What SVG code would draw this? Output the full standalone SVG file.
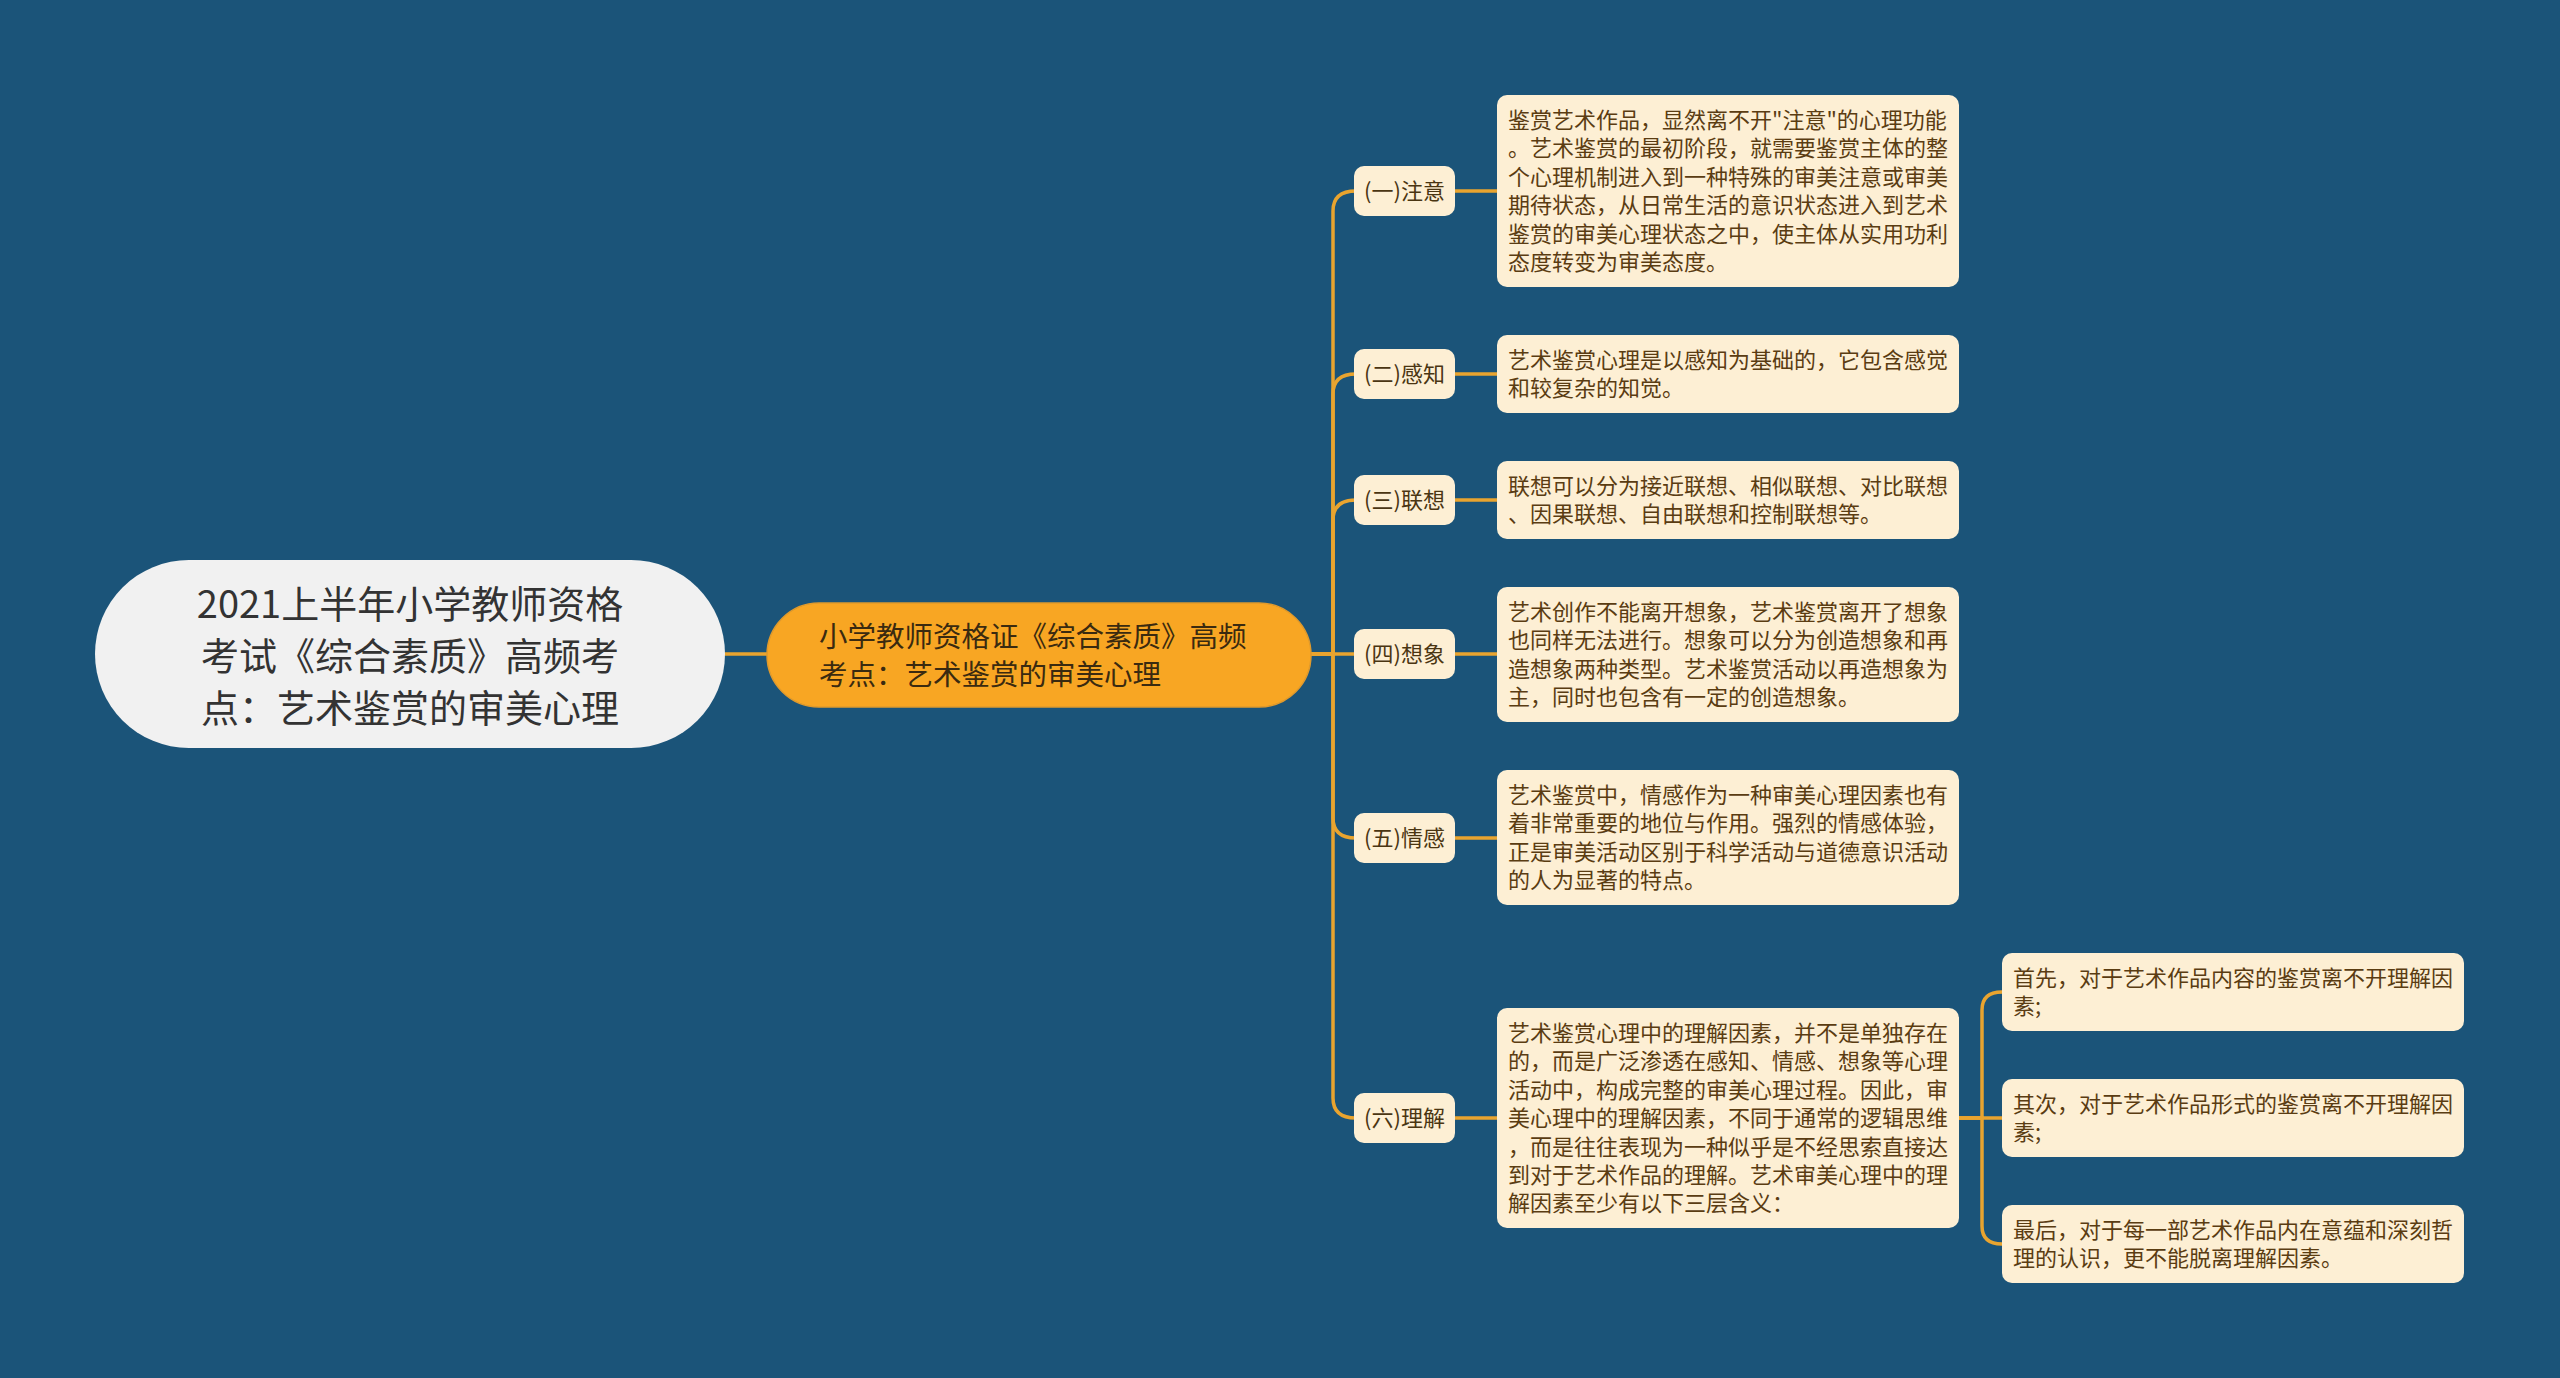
<svg xmlns="http://www.w3.org/2000/svg" width="2560" height="1378" viewBox="0 0 2560 1378">
<style>
.bg{fill:#1b5479}
.root{fill:#f1f1f1}
.main{fill:#f8a623;stroke:#e09a2c;stroke-width:1.5}
.box{fill:#fdefd4}
.ln{fill:none;stroke:#e9a42f;stroke-width:3.5;stroke-linecap:round}
text{font-family:"Noto Sans CJK SC","Noto Sans",sans-serif;dominant-baseline:central}
.rt{font-size:38px;fill:#333333;text-anchor:middle}
.mt{font-size:28.5px;fill:#3a2a10}
.lt{font-size:22px;fill:#4a3512;text-anchor:middle}
.ct{font-size:22px;fill:#5a3c12}
</style>
<rect class="bg" x="0" y="0" width="2560" height="1378"/>
<g id="connectors">
<path class="ln" d="M725 654 H767"/>
<path class="ln" d="M1311 654 H1333 V211 Q1333 191 1356 191"/>
<path class="ln" d="M1311 654 H1333 V394 Q1333 374 1356 374"/>
<path class="ln" d="M1311 654 H1333 V520 Q1333 500 1356 500"/>
<path class="ln" d="M1311 654 H1356"/>
<path class="ln" d="M1311 654 H1333 V818 Q1333 838 1356 838"/>
<path class="ln" d="M1311 654 H1333 V1098 Q1333 1118 1356 1118"/>
<path class="ln" d="M1455 191 H1497"/>
<path class="ln" d="M1455 374 H1497"/>
<path class="ln" d="M1455 500 H1497"/>
<path class="ln" d="M1455 654 H1497"/>
<path class="ln" d="M1455 838 H1497"/>
<path class="ln" d="M1455 1118 H1497"/>
<path class="ln" d="M1959 1118 H1982 V1010 Q1982 992 2002 992"/>
<path class="ln" d="M1959 1118 H2002"/>
<path class="ln" d="M1959 1118 H1982 V1226 Q1982 1244 2002 1244"/>
</g>
<g id="root">
<rect class="root" x="95" y="560" width="630" height="188" rx="94"/>
<text class="rt" x="410" y="601">2021上半年小学教师资格</text>
<text class="rt" x="410" y="653">考试《综合素质》高频考</text>
<text class="rt" x="410" y="705">点：艺术鉴赏的审美心理</text>
</g>
<g id="main">
<rect class="main" x="767" y="603" width="544" height="104" rx="52"/>
<text class="mt" x="819" y="634">小学教师资格证《综合素质》高频</text>
<text class="mt" x="819" y="672">考点：艺术鉴赏的审美心理</text>
</g>
<g id="label1">
<rect class="box" x="1354" y="166" width="101" height="50" rx="10"/>
<text class="lt" x="1404.5" y="189">(一)注意</text>
</g>
<g id="label2">
<rect class="box" x="1354" y="349" width="101" height="50" rx="10"/>
<text class="lt" x="1404.5" y="372">(二)感知</text>
</g>
<g id="label3">
<rect class="box" x="1354" y="475" width="101" height="50" rx="10"/>
<text class="lt" x="1404.5" y="498">(三)联想</text>
</g>
<g id="label4">
<rect class="box" x="1354" y="629" width="101" height="50" rx="10"/>
<text class="lt" x="1404.5" y="652">(四)想象</text>
</g>
<g id="label5">
<rect class="box" x="1354" y="813" width="101" height="50" rx="10"/>
<text class="lt" x="1404.5" y="836">(五)情感</text>
</g>
<g id="label6">
<rect class="box" x="1354" y="1093" width="101" height="50" rx="10"/>
<text class="lt" x="1404.5" y="1116">(六)理解</text>
</g>
<g id="content1">
<rect class="box" x="1497" y="95" width="462" height="192" rx="10"/>
<text class="ct" x="1508" y="118">鉴赏艺术作品，显然离不开"注意"的心理功能</text>
<text class="ct" x="1508" y="146.4">。艺术鉴赏的最初阶段，就需要鉴赏主体的整</text>
<text class="ct" x="1508" y="174.8">个心理机制进入到一种特殊的审美注意或审美</text>
<text class="ct" x="1508" y="203.2">期待状态，从日常生活的意识状态进入到艺术</text>
<text class="ct" x="1508" y="231.6">鉴赏的审美心理状态之中，使主体从实用功利</text>
<text class="ct" x="1508" y="260">态度转变为审美态度。</text>
</g>
<g id="content2">
<rect class="box" x="1497" y="335" width="462" height="78" rx="10"/>
<text class="ct" x="1508" y="358">艺术鉴赏心理是以感知为基础的，它包含感觉</text>
<text class="ct" x="1508" y="386.4">和较复杂的知觉。</text>
</g>
<g id="content3">
<rect class="box" x="1497" y="461" width="462" height="78" rx="10"/>
<text class="ct" x="1508" y="484">联想可以分为接近联想、相似联想、对比联想</text>
<text class="ct" x="1508" y="512.4">、因果联想、自由联想和控制联想等。</text>
</g>
<g id="content4">
<rect class="box" x="1497" y="587" width="462" height="135" rx="10"/>
<text class="ct" x="1508" y="610">艺术创作不能离开想象，艺术鉴赏离开了想象</text>
<text class="ct" x="1508" y="638.4">也同样无法进行。想象可以分为创造想象和再</text>
<text class="ct" x="1508" y="666.8">造想象两种类型。艺术鉴赏活动以再造想象为</text>
<text class="ct" x="1508" y="695.2">主，同时也包含有一定的创造想象。</text>
</g>
<g id="content5">
<rect class="box" x="1497" y="770" width="462" height="135" rx="10"/>
<text class="ct" x="1508" y="793">艺术鉴赏中，情感作为一种审美心理因素也有</text>
<text class="ct" x="1508" y="821.4">着非常重要的地位与作用。强烈的情感体验，</text>
<text class="ct" x="1508" y="849.8">正是审美活动区别于科学活动与道德意识活动</text>
<text class="ct" x="1508" y="878.2">的人为显著的特点。</text>
</g>
<g id="content6">
<rect class="box" x="1497" y="1008" width="462" height="220" rx="10"/>
<text class="ct" x="1508" y="1031">艺术鉴赏心理中的理解因素，并不是单独存在</text>
<text class="ct" x="1508" y="1059.4">的，而是广泛渗透在感知、情感、想象等心理</text>
<text class="ct" x="1508" y="1087.8">活动中，构成完整的审美心理过程。因此，审</text>
<text class="ct" x="1508" y="1116.2">美心理中的理解因素，不同于通常的逻辑思维</text>
<text class="ct" x="1508" y="1144.6">，而是往往表现为一种似乎是不经思索直接达</text>
<text class="ct" x="1508" y="1173">到对于艺术作品的理解。艺术审美心理中的理</text>
<text class="ct" x="1508" y="1201.4">解因素至少有以下三层含义：</text>
</g>
<g id="sub1">
<rect class="box" x="2002" y="953" width="462" height="78" rx="10"/>
<text class="ct" x="2013" y="976">首先，对于艺术作品内容的鉴赏离不开理解因</text>
<text class="ct" x="2013" y="1004.4">素;</text>
</g>
<g id="sub2">
<rect class="box" x="2002" y="1079" width="462" height="78" rx="10"/>
<text class="ct" x="2013" y="1102">其次，对于艺术作品形式的鉴赏离不开理解因</text>
<text class="ct" x="2013" y="1130.4">素;</text>
</g>
<g id="sub3">
<rect class="box" x="2002" y="1205" width="462" height="78" rx="10"/>
<text class="ct" x="2013" y="1228">最后，对于每一部艺术作品内在意蕴和深刻哲</text>
<text class="ct" x="2013" y="1256.4">理的认识，更不能脱离理解因素。</text>
</g>
</svg>
